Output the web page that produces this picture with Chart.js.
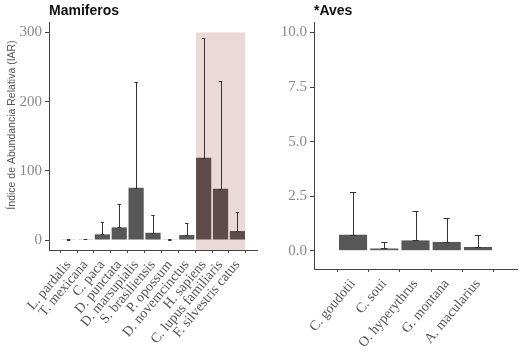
<!DOCTYPE html>
<html><head><meta charset="utf-8">
<script src="https://cdn.jsdelivr.net/npm/chart.js@4.4.1/dist/chart.umd.min.js"></script>
<style>
html,body{margin:0;padding:0;background:#fff;}
#wrap{position:relative;width:523px;height:353px;overflow:hidden;}
#c1box{position:absolute;left:0;top:0;width:262px;height:353px;}
#c2box{position:absolute;left:262px;top:0;width:261px;height:353px;}
</style></head><body>
<div id="wrap"><div id="c1box"><canvas id="c1"></canvas></div><div id="c2box"><canvas id="c2"></canvas></div></div>
<script>
// ---- data ----
const mamCategories = ["L. pardalis","T. mexicana","C. paca","D. punctata","D. marsupialis","S. brasiliensis","P. opossum","D. novemcinctus","H. sapiens","C. lupus familiaris","F. silvestris catus"];
const mamValues = [0.5, 1, 8.2, 18.3, 75.5, 10.5, 0.5, 7.2, 118.8, 74, 13];
const mamUpper  = [0.8, 2, 25.5, 52, 228, 36, 0.8, 24.5, 292, 230, 40];
const mamTicks = [0, 100, 200, 300];
const mamHighlight = ["H. sapiens","C. lupus familiaris","F. silvestris catus"];
const mamHighlightTop = 300;

const avesCategories = ["C. goudotii","C. soui","O. hyperythrus","G. montana","A. macularius"];
const avesValues = [0.73, 0.1, 0.47, 0.4, 0.17];
const avesUpper  = [2.68, 0.4, 1.8, 1.48, 0.7];
const avesTicks = [0, 2.5, 5, 7.5, 10];

const yTitle = "Índice de Abundancia Relativa (IAR)";

// ---- styles ----
const GREY = "#575757", HIL = "#5e4b49", SHADE = "#ead9d6", AXIS = "#444444";
const serif = "'Liberation Serif','DejaVu Serif',serif";
const sans = "'Liberation Sans',Arial,sans-serif";

function makePanel(canvas, cfg) {
  const n = cfg.cats.length;
  const colors = cfg.cats.map(c => (cfg.highlight || []).includes(c) ? HIL : GREY);
  const plugin = {
    id: 'extras',
    beforeDatasetsDraw(chart) {
      const {ctx, chartArea, scales: {x, y}} = chart;
      if (cfg.highlight && cfg.highlight.length) {
        const idx = cfg.highlight.map(h => cfg.cats.indexOf(h));
        const x0 = x.getPixelForValue(Math.min(...idx) + 1 - 0.45);
        const x1 = x.getPixelForValue(Math.max(...idx) + 1 + 0.45);
        const yt = y.getPixelForValue(cfg.highlightTop);
        ctx.save(); ctx.fillStyle = SHADE;
        ctx.fillRect(x0, yt, x1 - x0, chartArea.bottom - yt);
        ctx.restore();
      }
    },
    afterDatasetsDraw(chart) {
      const {ctx, scales: {x, y}} = chart;
      ctx.save(); ctx.strokeStyle = "#333"; ctx.lineWidth = 1;
      cfg.vals.forEach((v, i) => {
        const xc = Math.round(x.getPixelForValue(i + 1)) + 0.5;
        const xl = x.getPixelForValue(i + 1 - 0.1), xr = x.getPixelForValue(i + 1 + 0.1);
        const yb = Math.round(y.getPixelForValue(v)) + 0.5;
        const yt = Math.round(y.getPixelForValue(cfg.upper[i])) + 0.5;
        ctx.beginPath();
        ctx.moveTo(xc, yb); ctx.lineTo(xc, yt);
        ctx.moveTo(xl, yt); ctx.lineTo(xr, yt);
        ctx.moveTo(xl, yb); ctx.lineTo(xr, yb);
        ctx.stroke();
      });
      ctx.restore();
    },
    afterDraw(chart) {
      const {ctx, chartArea} = chart;
      ctx.save();
      ctx.fillStyle = "#111"; ctx.font = "bold 14px " + sans;
      ctx.textAlign = "left"; ctx.textBaseline = "alphabetic";
      ctx.fillText(cfg.title, chartArea.left, 15);
      if (cfg.yTitle) {
        ctx.translate(12, 125); ctx.rotate(-Math.PI / 2);
        ctx.fillStyle = "#555"; ctx.font = "10.5px " + sans;
        ctx.textAlign = "center"; ctx.textBaseline = "middle";
        ctx.fillText(cfg.yTitle, 0, 0);
      }
      ctx.restore();
    }
  };
  return new Chart(canvas, {
    type: 'bar',
    data: {
      datasets: [{
        data: cfg.vals.map((v, i) => ({x: i + 1, y: v})),
        backgroundColor: colors,
        borderWidth: 0,
        barPercentage: 0.9,
        categoryPercentage: 1.0
      }]
    },
    options: {
      responsive: true, maintainAspectRatio: false, animation: false,
      devicePixelRatio: 1,
      layout: {padding: {top: 22, right: cfg.padRight, left: 0, bottom: 0}},
      plugins: {legend: {display: false}, tooltip: {enabled: false}, title: {display: false}},
      scales: {
        x: {
          type: 'linear', min: 0.4, max: n + 0.6,
          afterBuildTicks(s) { s.ticks = cfg.cats.map((c, i) => ({value: i + 1})); },
          afterFit(s) { s.height = cfg.xHeight; },
          ticks: {
            autoSkip: false, minRotation: 50, maxRotation: 50, padding: 4,
            color: "#555", font: {family: serif, size: 14},
            callback: (v) => cfg.cats[Math.round(v) - 1]
          },
          grid: {display: true, drawOnChartArea: false, drawTicks: true, tickLength: 3, color: AXIS},
          border: {display: true, color: AXIS, width: 1}
        },
        y: {
          type: 'linear', min: cfg.ymin, max: cfg.ymax,
          afterBuildTicks(s) { s.ticks = cfg.ticks.map(v => ({value: v})); },
          afterFit(s) { s.width = cfg.yWidth; },
          ticks: {
            padding: 3, color: "#888", font: {family: serif, size: 15},
            callback: (v) => cfg.fmt(v)
          },
          grid: {display: true, drawOnChartArea: false, drawTicks: true, tickLength: 4, color: AXIS},
          border: {display: true, color: AXIS, width: 1},
          title: {display: false}
        }
      }
    },
    plugins: [plugin]
  });
}

makePanel(document.getElementById('c1'), {
  cats: mamCategories, vals: mamValues, upper: mamUpper, ticks: mamTicks,
  highlight: mamHighlight, highlightTop: mamHighlightTop,
  ymin: -14.4, ymax: 315, fmt: v => String(v),
  title: "Mamiferos", yTitle: yTitle,
  yWidth: 49, xHeight: 103, padRight: 5
});
makePanel(document.getElementById('c2'), {
  cats: avesCategories, vals: avesValues, upper: avesUpper, ticks: avesTicks,
  highlight: null,
  ymin: -0.84, ymax: 10.48, fmt: v => v.toFixed(1),
  title: "*Aves", yTitle: null,
  yWidth: 52, xHeight: 84, padRight: 6
});
</script>
</body></html>
